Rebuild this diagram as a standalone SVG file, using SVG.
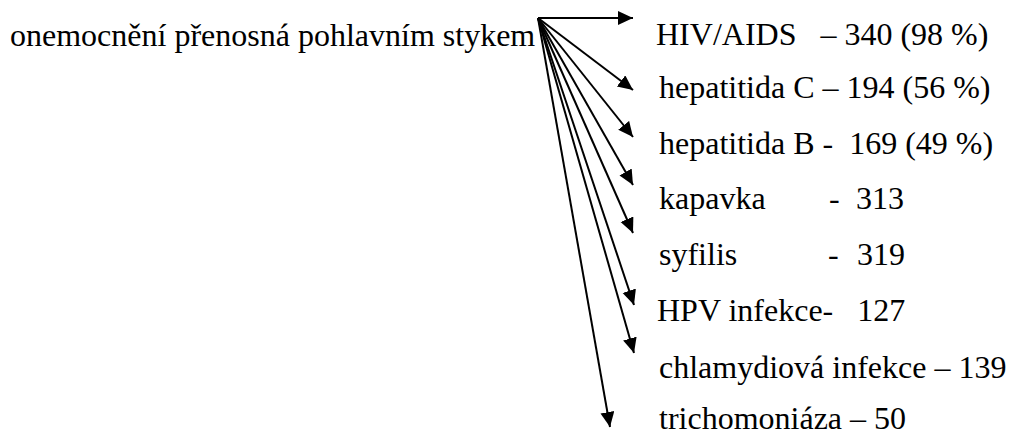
<svg xmlns="http://www.w3.org/2000/svg" width="1009" height="434" viewBox="0 0 1009 434">
<style>
text{font-family:"Liberation Serif","Times New Roman",serif;font-size:32px;fill:#000}
.c line{stroke:#000;stroke-width:2;marker-end:url(#ah)}
</style>
<defs>
<marker id="ah" markerUnits="userSpaceOnUse" markerWidth="16" markerHeight="16" refX="15" refY="7" orient="auto">
<path d="M0,0 L15,7 L0,14 Z" fill="#000"/>
</marker>
</defs>
<rect width="1009" height="434" fill="#fff"/>
<g id="source"><text x="10" y="46">onemocnění přenosná pohlavním stykem</text></g>
<g class="c" id="connectors">
<line x1="538" y1="18" x2="633" y2="18"/>
<line x1="538" y1="18" x2="633" y2="90"/>
<line x1="538" y1="18" x2="633" y2="137"/>
<line x1="538" y1="18" x2="633" y2="185"/>
<line x1="538" y1="18" x2="633" y2="233"/>
<line x1="538" y1="18" x2="634" y2="305"/>
<line x1="538" y1="18" x2="634" y2="353"/>
<line x1="538" y1="18" x2="610" y2="427"/>
</g>
<g id="n1"><text x="656" y="45" xml:space="preserve">HIV/AIDS   – 340 (98 %)</text></g>
<g id="n2"><text x="659" y="98">hepatitida C – 194 (56 %)</text></g>
<g id="n3"><text x="659" y="154" xml:space="preserve">hepatitida B -  169 (49 %)</text></g>
<g id="n4"><text x="659" y="209">kapavka<tspan x="829">-</tspan><tspan x="856">313</tspan></text></g>
<g id="n5"><text x="659" y="265">syfilis<tspan x="828">-</tspan><tspan x="857">319</tspan></text></g>
<g id="n6"><text x="657" y="321" xml:space="preserve">HPV infekce-   127</text></g>
<g id="n7"><text x="659" y="378">chlamydiová infekce – 139</text></g>
<g id="n8"><text x="659" y="429">trichomoniáza – 50</text></g>
</svg>
